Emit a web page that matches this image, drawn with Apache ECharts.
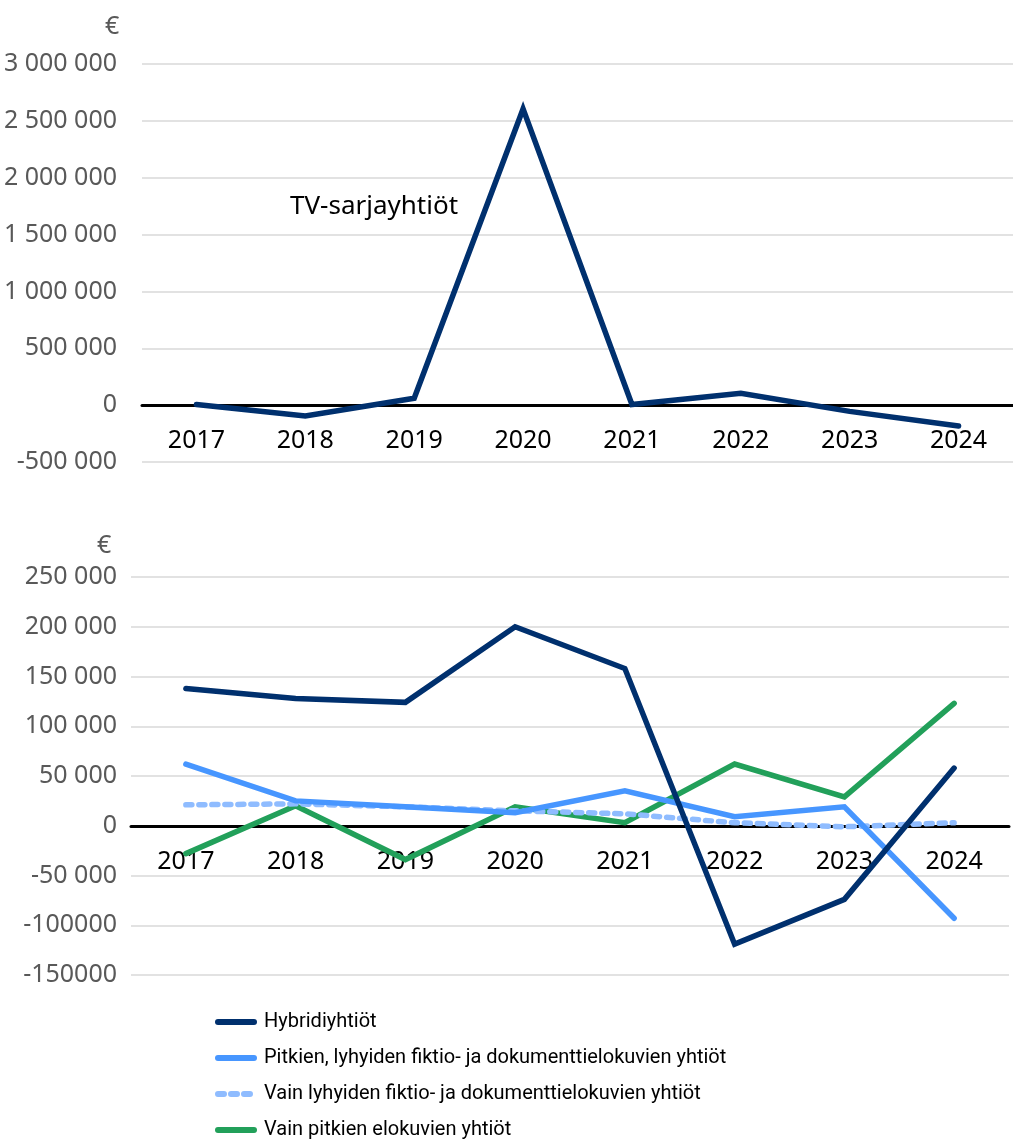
<!DOCTYPE html>
<html>
<head>
<meta charset="utf-8">
<script src="https://cdn.jsdelivr.net/npm/echarts@6/dist/echarts.min.js"></script>
<style>
  html, body { margin: 0; padding: 0; background: #fff; }
  #chart { width: 1013px; height: 1144px; }
</style>
</head>
<body>
<div id="chart"></div>
<script>
// Vuodet
const years = ['2017', '2018', '2019', '2020', '2021', '2022', '2023', '2024'];

// Ylempi kuvio: TV-sarjayhtiöt
const tvSarja = [5000, -96000, 61000, 2605000, 5000, 105000, -55000, -184000];

// Alempi kuvio
const hybridi = [138000, 128000, 124000, 200000, 158000, -119000, -74000, 58000];
const pitkienLyhyiden = [62000, 25000, 19000, 13000, 35000, 9000, 19000, -93000];
const vainLyhyiden = [21000, 22000, 19000, 15000, 12000, 3000, -1000, 3000];
const vainPitkien = [-28000, 20000, -34000, 19000, 3000, 62000, 29000, 123000];

// Akselien tekstit
const topTicks = ['-500 000', '0', '500 000', '1 000 000', '1 500 000', '2 000 000', '2 500 000', '3 000 000'];
const bottomTicks = ['-150000', '-100000', '-50 000', '0', '50 000', '100 000', '150 000', '200 000', '250 000'];

const names = [
  'Hybridiyhtiöt',
  'Pitkien, lyhyiden fiktio- ja dokumenttielokuvien yhtiöt',
  'Vain lyhyiden fiktio- ja dokumenttielokuvien yhtiöt',
  'Vain pitkien elokuvien yhtiöt'
];

const navy = '#00306e';
const blue = '#4796ff';
const lightBlue = '#8fbcff';
const green = '#22a05a';
const numFont = 'Noto Sans';

const chart = echarts.init(document.getElementById('chart'));

// x-akseli nollakohtaan (offset = etäisyys gridin alareunasta)
const xAxisBase = (gridIndex, offset) => ({
  type: 'category',
  gridIndex,
  data: years,
  boundaryGap: true,
  offset,
  axisLine: { onZero: false, lineStyle: { color: '#000', width: 3 } },
  axisTick: { show: false },
  axisLabel: { color: '#000', fontSize: 25, fontFamily: numFont, margin: 23 },
  splitLine: { show: false }
});

const yAxisBase = (gridIndex, min, max, interval, ticks, margin) => ({
  type: 'value',
  gridIndex,
  min, max, interval,
  axisLine: { show: false },
  axisTick: { show: false },
  axisLabel: {
    color: '#595959', fontSize: 25, fontFamily: numFont, margin,
    formatter: (v) => ticks[Math.round((v - min) / interval)]
  },
  splitLine: { lineStyle: { color: '#d9d9d9', width: 1.5 } }
});

const lineSeries = (name, data, color, idx, dashed) => ({
  name,
  type: 'line',
  xAxisIndex: idx,
  yAxisIndex: idx,
  data,
  symbol: 'none',
  silent: true,
  lineStyle: {
    color, width: 5.5,
    type: dashed ? [6, 7] : 'solid',
    cap: 'round', join: 'miter'
  },
  itemStyle: { color }
});

const option = {
  backgroundColor: '#fff',
  animation: false,
  grid: [
    { left: 142, right: 0, top: 64, height: 398 },
    { left: 131, right: 4, top: 577, height: 398 }
  ],
  xAxis: [xAxisBase(0, -57), xAxisBase(1, -149)],
  yAxis: [
    yAxisBase(0, -500000, 3000000, 500000, topTicks, 25),
    yAxisBase(1, -150000, 250000, 50000, bottomTicks, 14)
  ],
  legend: {
    data: names,
    orient: 'vertical',
    left: 215,
    top: 1009,
    padding: 0,
    itemWidth: 36,
    itemHeight: 12,
    itemGap: 10,
    itemStyle: { opacity: 0 },
    lineStyle: { width: 6, cap: 'round' },
    textStyle: { color: '#000', fontSize: 20, fontFamily: 'Roboto', lineHeight: 26, padding: [0, 0, 0, 5] }
  },
  graphic: [
    { type: 'text', left: 105, top: 14, style: { text: '€', fill: '#595959', font: '25px "Noto Sans"' } },
    { type: 'text', left: 97, top: 533, style: { text: '€', fill: '#595959', font: '25px "Noto Sans"' } },
    { type: 'text', left: 290, top: 194, style: { text: 'TV-sarjayhtiöt', fill: '#000', font: '26px "Noto Sans"' } }
  ],
  series: [
    lineSeries('TV-sarjayhtiöt', tvSarja, navy, 0, false),
    lineSeries(names[3], vainPitkien, green, 1, false),
    lineSeries(names[2], vainLyhyiden, lightBlue, 1, true),
    lineSeries(names[1], pitkienLyhyiden, blue, 1, false),
    lineSeries(names[0], hybridi, navy, 1, false)
  ]
};

chart.setOption(option);
</script>
</body>
</html>
